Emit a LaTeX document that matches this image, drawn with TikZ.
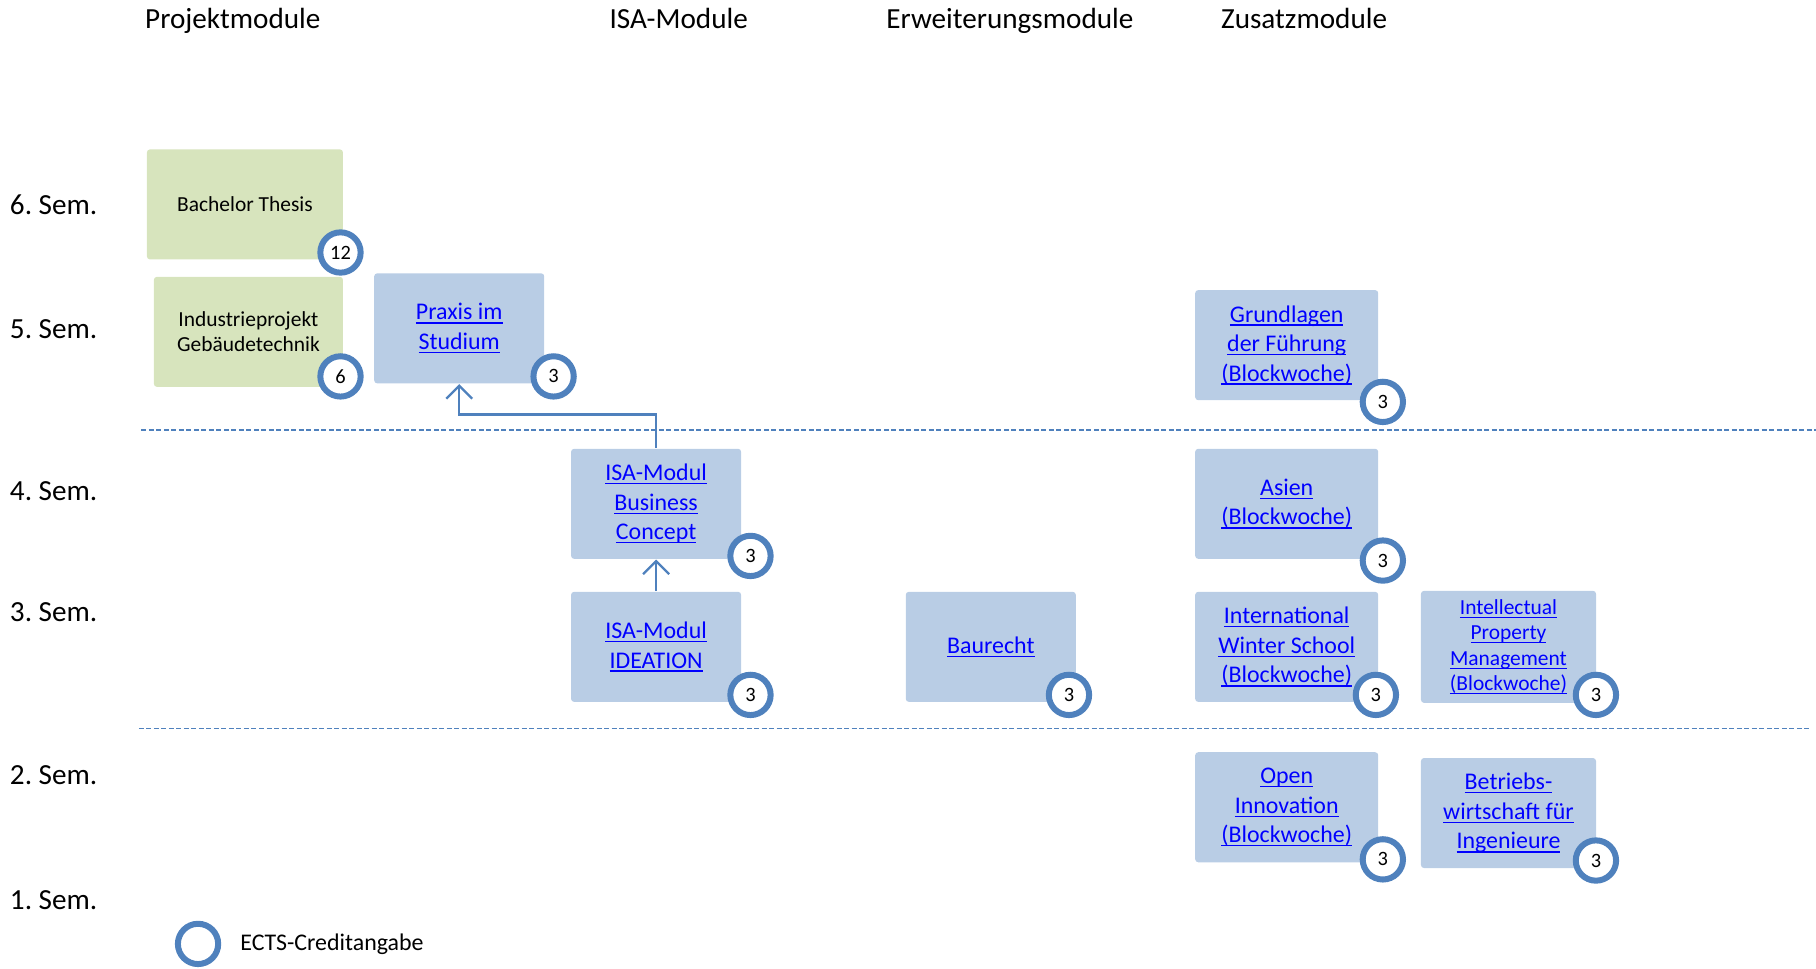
\documentclass[tikz,border=0pt]{standalone}
\usepackage{fontspec}
\setmainfont{Carlito}
\usepackage{tikz}
\usetikzlibrary{arrows.meta}

\definecolor{modgreen}{HTML}{D7E4BD}
\definecolor{modblue}{HTML}{B9CDE5}
\definecolor{ring}{HTML}{4F81BD}
\definecolor{linkblue}{HTML}{0000FF}
\newsavebox{\lkbox}
\newcommand{\lk}[1]{\sbox{\lkbox}{#1}\rlap{\rule[-1.05pt]{\wd\lkbox}{0.38pt}}\usebox{\lkbox}}

\begin{document}
\begin{tikzpicture}[x=0.1158mm, y=-0.1158mm,
    head/.style={anchor=base, font=\fontsize{8.3}{10}\selectfont},
    sem/.style={anchor=base west, inner sep=0, font=\fontsize{8.3}{10}\selectfont},
    greenbox/.style={fill=modgreen, rounded corners=0.3mm, align=center, inner sep=0,
        minimum height=11mm, font=\fontsize{6.1}{7.2}\selectfont},
    bluebox/.style={fill=modblue, rounded corners=0.3mm, align=center, inner sep=0,
        text=linkblue, minimum width=17mm, minimum height=11mm, font=\fontsize{6.8}{8.4}\selectfont},
    ects/.style={circle, draw=ring, line width=0.6mm, fill=white, inner sep=0,
        minimum size=4.03mm, font=\fontsize{5.8}{7}\selectfont},
    semline/.style={draw=ring, line width=0.17mm, dash pattern=on 0.5mm off 0.25mm},
    pre/.style={draw=ring, line width=0.23mm, -{Straight Barb[length=1.3mm,width=2.6mm]}}]

\useasboundingbox (0,0) rectangle (1568,836);

% column heads
\node[head] (hproj) at (201,25) {Projektmodule};
\node[head] (hisa) at (586,25) {ISA-Module};
\node[head] (herw) at (872,25) {Erweiterungsmodule};
\node[head] (hzus) at (1126,25) {Zusatzmodule};

% semesters
\node[sem] (s6) at (8,185) {6.\ Sem.};
\node[sem] (s5) at (8,292) {5.\ Sem.};
\node[sem] (s4) at (8,432) {4.\ Sem.};
\node[sem] (s3) at (8,537) {3.\ Sem.};
\node[sem] (s2) at (8,677) {2.\ Sem.};
\node[sem] (s1) at (8,785) {1.\ Sem.};

\draw[semline] (122,371) -- (1568,371);
\draw[semline] (120,629) -- (1563,629);

% project modules
\node[greenbox, minimum width=19.6mm] (bt) at (211.5,176.5) {Bachelor Thesis};
\node[greenbox, minimum width=18.9mm] (ip) at (214.5,286.5) {Industrieprojekt\\Gebäudetechnik};
\node[bluebox] (praxis) at (396.5,283.5) {\lk{Praxis im}\\\lk{Studium}};

% ISA modules
\node[bluebox] (biz) at (566.5,435) {\lk{ISA-Modul}\\\lk{Business}\\\lk{Concept}};
\node[bluebox] (idea) at (566.5,558.5) {\lk{ISA-Modul}\\\lk{IDEATION}};

% extension modules
\node[bluebox] (bau) at (855.5,558.5) {\lk{Baurecht}};

% additional modules
\node[bluebox, minimum width=18.3mm] (fuehr) at (1111,298) {\lk{Grundlagen}\\\lk{der Führung}\\\lk{(Blockwoche)}};
\node[bluebox, minimum width=18.3mm] (asien) at (1111,435) {\lk{Asien}\\\lk{(Blockwoche)}};
\node[bluebox, minimum width=18.3mm] (iws) at (1111,558.5) {\lk{International}\\\lk{Winter School}\\\lk{(Blockwoche)}};
\node[bluebox, minimum width=17.5mm, minimum height=11.2mm, font=\fontsize{6.1}{7.25}\selectfont] (ipm) at (1302.5,558.5)
    {\lk{Intellectual}\\\lk{Property}\\\lk{Management}\\\lk{(Blockwoche)}};
\node[bluebox, minimum width=18.3mm] (oi) at (1111,697) {\lk{Open}\\\lk{Innovation}\\\lk{(Blockwoche)}};
\node[bluebox, minimum width=17.5mm] (bw) at (1302.5,702) {\lk{Betriebs-}\\\lk{wirtschaft für}\\\lk{Ingenieure}};

% prerequisites
\draw[pre] (idea.north) -- (biz.south);
\draw[pre] (biz.north) -- ++(0,-29) -| (praxis.south);

% credits
\node[ects] (c-bt) at (294,218) {12};
\node[ects] (c-ip) at (294,325) {6};
\node[ects] (c-praxis) at (478,325) {3};
\node[ects] (c-biz) at (648,480) {3};
\node[ects] (c-idea) at (648,600) {3};
\node[ects] (c-bau) at (923,600) {3};
\node[ects] (c-fuehr) at (1194,347) {3};
\node[ects] (c-asien) at (1194,484) {3};
\node[ects] (c-iws) at (1188,600) {3};
\node[ects] (c-ipm) at (1378,600) {3};
\node[ects] (c-oi) at (1194,742) {3};
\node[ects] (c-bw) at (1378,743) {3};

% legend
\node[ects] (key) at (171,815) {};
\node[anchor=west, inner sep=0, font=\fontsize{6.8}{8}\selectfont] (keytext) at (207,815) {ECTS-Creditangabe};

\end{tikzpicture}
\end{document}
